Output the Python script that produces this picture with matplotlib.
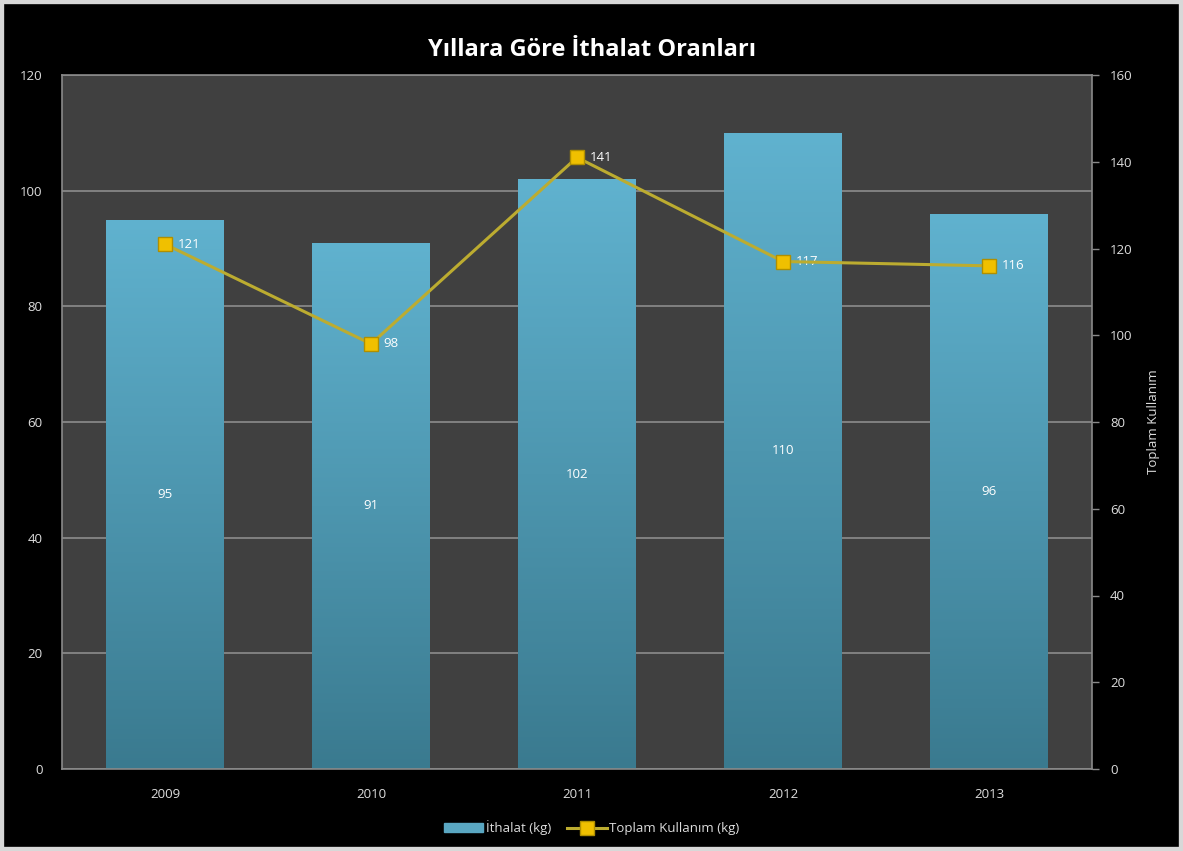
import numpy as np
import matplotlib.pyplot as plt
from matplotlib.patches import Rectangle
from matplotlib.colors import LinearSegmentedColormap

years = ['2009', '2010', '2011', '2012', '2013']
ithalat = [95, 91, 102, 110, 96]
toplam = [121, 98, 141, 117, 116]

plt.rcParams['font.family'] = ['Open Sans', 'DejaVu Sans']

fig = plt.figure(figsize=(11.83, 8.51), dpi=100, facecolor='black')
fig.patches.append(Rectangle((0, 0), 1, 1, transform=fig.transFigure,
                             fill=False, edgecolor='#d8d8d8', linewidth=6))

ax = fig.add_axes([62 / 1183, 1 - 769 / 851, 1030 / 1183, 694 / 851])
ax.set_facecolor('#404040')
for s in ax.spines.values():
    s.set_color('#8a8a8a')
    s.set_linewidth(1.2)

x = np.arange(len(years))
ax.set_yticks(range(0, 121, 20))
ax.yaxis.grid(True, color='#8c8c8c', linewidth=1.2)
ax.set_axisbelow(True)

# bars with vertical gradient
bar_cmap = LinearSegmentedColormap.from_list('bar', ['#3a7a8f', '#60b2cf'])
grad = np.linspace(0, 1, 256).reshape(-1, 1)
bars = ax.bar(x, ithalat, width=0.57, color='none', edgecolor='none', zorder=2)
for b, v in zip(bars, ithalat):
    im = ax.imshow(grad, cmap=bar_cmap, aspect='auto', origin='lower',
                   extent=[b.get_x(), b.get_x() + b.get_width(), 0, v], zorder=2)
    im.set_clip_path(b)
    ax.text(b.get_x() + b.get_width() / 2, v / 2, str(v), color='white',
            ha='center', va='center', fontsize=9.5, zorder=4)
ax.set_xlim(-0.5, len(years) - 0.5)
ax.set_ylim(0, 120)

ax.set_xticks(x)
ax.set_xticklabels(years)
ax.tick_params(axis='x', length=0, pad=14, colors='#dddddd', labelsize=9.5)
ax.tick_params(axis='y', length=0, pad=14, colors='#dddddd', labelsize=9.5)

ax2 = ax.twinx()
ax2.set_ylim(0, 160)
ax2.set_yticks(range(0, 161, 20))
ax2.tick_params(axis='y', length=5, width=1, pad=8,
                colors='#dddddd', labelsize=9.5)
ax2.tick_params(axis='y', color='#8a8a8a')
for s in ax2.spines.values():
    s.set_visible(False)
ax2.set_ylabel('Toplam Kullanım', color='#dddddd', fontsize=9.5, labelpad=10)

line, = ax2.plot(x, toplam, color='#bcac30', linewidth=2.2, marker='s',
                 markersize=9.5, markerfacecolor='#f0c000',
                 markeredgecolor='#b08f00', markeredgewidth=1, zorder=5)
for xi, v in zip(x, toplam):
    ax2.annotate(str(v), (xi, v), xytext=(9, 0), textcoords='offset points',
                 color='white', fontsize=9.5, va='center', ha='left')

fig.suptitle('Yıllara Göre İthalat Oranları', color='white', fontsize=17,
             fontweight='bold', y=0.955)

leg = fig.legend([bars[0], line], ['İthalat (kg)', 'Toplam Kullanım (kg)'],
                 loc='center', bbox_to_anchor=(0.5, 1 - 828 / 851), ncol=2,
                 frameon=False, fontsize=9.5, handlelength=3.0,
                 columnspacing=1.2, handletextpad=0.2, labelcolor='#dddddd')
leg.legend_handles[0].set_facecolor('#5aa7c2')
leg.legend_handles[0].set_edgecolor('#5aa7c2')

fig.savefig('out.png', dpi=100, facecolor='black')
